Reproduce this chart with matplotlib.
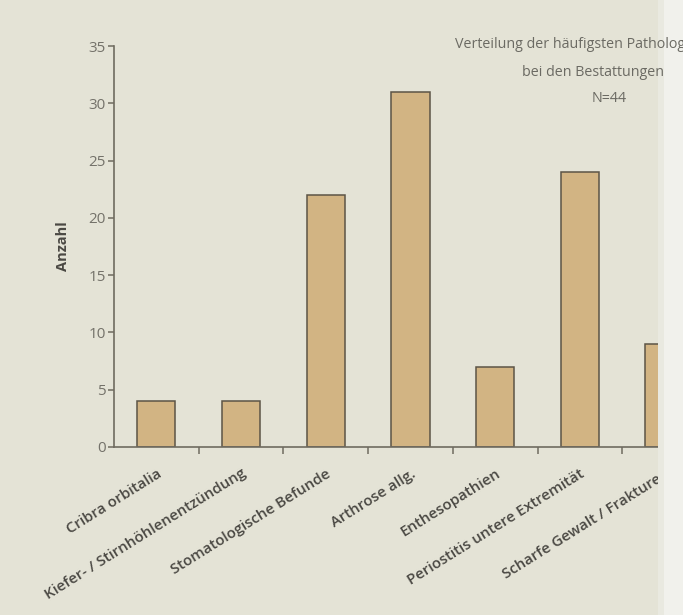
import matplotlib
matplotlib.use("Agg")
import matplotlib.pyplot as plt
from matplotlib.patches import Rectangle

plt.rcParams['font.family'] = ['Open Sans', 'DejaVu Sans']

# Kategorien und Werte (Anzahl)
kategorien = ["Cribra orbitalia",
              "Kiefer- / Stirnhöhlenentzündung",
              "Stomatologische Befunde",
              "Arthrose allg.",
              "Enthesopathien",
              "Periostitis untere Extremität",
              "Scharfe Gewalt / Frakturen"]
anzahl = [4, 4, 22, 31, 7, 24, 9]
yticks = [0, 5, 10, 15, 20, 25, 30, 35]
titel = ["Verteilung der häufigsten Pathologien",
         "bei den Bestattungen",
         "N=44"]

papier = '#e4e3d6'
balken = '#d2b483'
rand = '#5c5446'
achse = '#6f6b60'

fig = plt.figure(figsize=(6.83, 6.15), dpi=100, facecolor=papier)
W, H = 683, 615

# Achse ragt rechts über den Bildrand hinaus (Scan abgeschnitten)
left = 114 / W
bottom = (H - 447) / H
height = (447 - 46) / H
einheit = 84.7  # px pro Kategorie
xmax = 7.0
width = (xmax + 0.5) * einheit / W
ax = fig.add_axes([left, bottom, width, height])
ax.set_facecolor(papier)

x = list(range(len(kategorien)))
ax.bar(x, anzahl, width=0.45, color=balken, edgecolor=rand, linewidth=1.1, zorder=2)

ax.set_xlim(-0.5, xmax)
ax.set_ylim(0, 35)
ax.set_yticks(yticks)
ax.set_yticklabels([str(v) for v in yticks], color='#74726a', fontsize=11)

for s in ['top', 'right']:
    ax.spines[s].set_visible(False)
for s in ['left', 'bottom']:
    ax.spines[s].set_color(achse)
    ax.spines[s].set_linewidth(1.2)

ax.tick_params(axis='y', direction='out', length=4, width=1.1, color=achse, pad=2)
ax.set_xticks(x)
ax.set_xticklabels(kategorien, rotation=32, ha='right', rotation_mode='anchor',
                   fontsize=10.8, fontweight='semibold', color='#4a4843')
ax.tick_params(axis='x', length=0, pad=14)
ax.set_xticks([i + 0.5 for i in x], minor=True)
ax.tick_params(axis='x', which='minor', direction='out', length=5, width=1.1, color=achse)

ax.set_ylabel("Anzahl", fontsize=10.5, fontweight='bold', color='#4a4843')
ax.yaxis.set_label_coords((70 - 114) / (width * W), 0.5)

# Titel
fig.text(455 / W, 1 - 45 / H, titel[0], fontsize=10.3, color='#6b6a63', ha='left', va='center')
fig.text(522 / W, 1 - 72 / H, titel[1], fontsize=10.3, color='#6b6a63', ha='left', va='center')
fig.text(592 / W, 1 - 99 / H, titel[2], fontsize=10.3, color='#6b6a63', ha='left', va='center')

# heller Falz am rechten Rand
fig.patches.append(Rectangle((658 / W, 0), 6 / W, 1, transform=fig.transFigure,
                             facecolor='#e9e9e0', edgecolor='none', zorder=1))
fig.patches.append(Rectangle((664 / W, 0), 1, 1, transform=fig.transFigure,
                             facecolor='#f1f1ec', edgecolor='none', zorder=1))

fig.savefig("out.png", dpi=100, facecolor=papier)
